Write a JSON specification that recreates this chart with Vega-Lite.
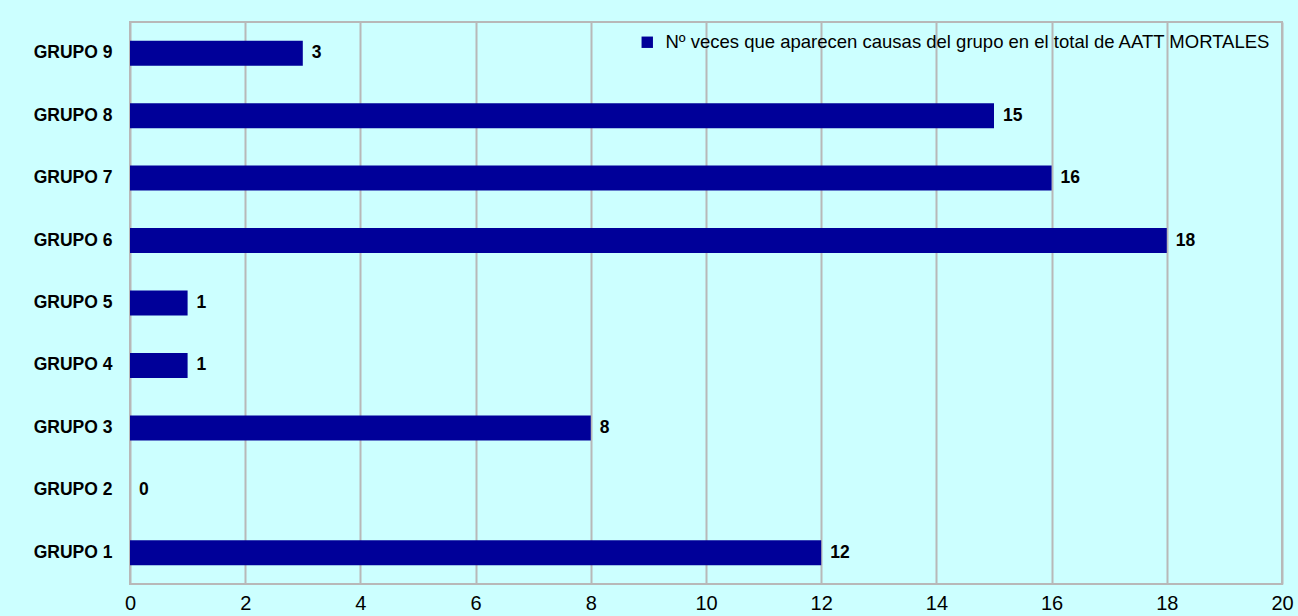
{
  "$schema": "https://vega.github.io/schema/vega-lite/v6.json",
  "autosize": {"type": "none"},
  "width": 1152,
  "height": 562,
  "padding": {"left": 130, "top": 22, "right": 16, "bottom": 32},
  "background": "#CCFFFF",
  "config": {
    "font": "Liberation Sans",
    "view": {"stroke": "#B8B8B8", "strokeWidth": 2, "fill": "#CCFFFF"}
  },
  "data": {
    "values": [
      {"grupo": "GRUPO 1", "valor": 12, "serie": "Nº veces que aparecen causas del grupo en el total de AATT MORTALES"},
      {"grupo": "GRUPO 2", "valor": 0, "serie": "Nº veces que aparecen causas del grupo en el total de AATT MORTALES"},
      {"grupo": "GRUPO 3", "valor": 8, "serie": "Nº veces que aparecen causas del grupo en el total de AATT MORTALES"},
      {"grupo": "GRUPO 4", "valor": 1, "serie": "Nº veces que aparecen causas del grupo en el total de AATT MORTALES"},
      {"grupo": "GRUPO 5", "valor": 1, "serie": "Nº veces que aparecen causas del grupo en el total de AATT MORTALES"},
      {"grupo": "GRUPO 6", "valor": 18, "serie": "Nº veces que aparecen causas del grupo en el total de AATT MORTALES"},
      {"grupo": "GRUPO 7", "valor": 16, "serie": "Nº veces que aparecen causas del grupo en el total de AATT MORTALES"},
      {"grupo": "GRUPO 8", "valor": 15, "serie": "Nº veces que aparecen causas del grupo en el total de AATT MORTALES"},
      {"grupo": "GRUPO 9", "valor": 3, "serie": "Nº veces que aparecen causas del grupo en el total de AATT MORTALES"}
    ]
  },
  "encoding": {
    "y": {
      "field": "grupo",
      "type": "nominal",
      "sort": "descending",
      "scale": {"paddingInner": 0.6, "paddingOuter": 0.3},
      "axis": {
        "title": null,
        "domain": false,
        "ticks": false,
        "grid": false,
        "labelFont": "Liberation Sans",
        "labelFontSize": 17.5,
        "labelFontWeight": "bold",
        "labelColor": "#000000",
        "labelPadding": 18
      }
    },
    "x": {
      "field": "valor",
      "type": "quantitative",
      "scale": {"domain": [0, 20], "nice": false},
      "axis": {
        "title": null,
        "values": [0, 2, 4, 6, 8, 10, 12, 14, 16, 18, 20],
        "domain": false,
        "ticks": false,
        "grid": true,
        "gridColor": "#B8B8B8",
        "gridWidth": 2,
        "labelFont": "Liberation Sans",
        "labelFontSize": 20,
        "labelColor": "#000000",
        "labelPadding": 9,
        "labelFlush": false
      }
    }
  },
  "layer": [
    {
      "mark": {"type": "bar"},
      "encoding": {
        "color": {
          "field": "serie",
          "type": "nominal",
          "scale": {"range": ["#000099"]},
          "legend": {
            "title": null,
            "orient": "top-right",
            "offset": 11,
            "padding": 0,
            "symbolType": "square",
            "symbolSize": 130,
            "symbolStrokeWidth": 0,
            "labelFont": "Liberation Sans",
            "labelFontSize": 18.5,
            "labelColor": "#000000",
            "labelLimit": 800,
            "labelOffset": 9
          }
        }
      }
    },
    {
      "mark": {"type": "text", "align": "left", "baseline": "middle", "dx": 9, "fontSize": 17.5, "fontWeight": "bold", "color": "#000000", "font": "Liberation Sans"},
      "encoding": {
        "text": {"field": "valor", "type": "quantitative"}
      }
    }
  ]
}
